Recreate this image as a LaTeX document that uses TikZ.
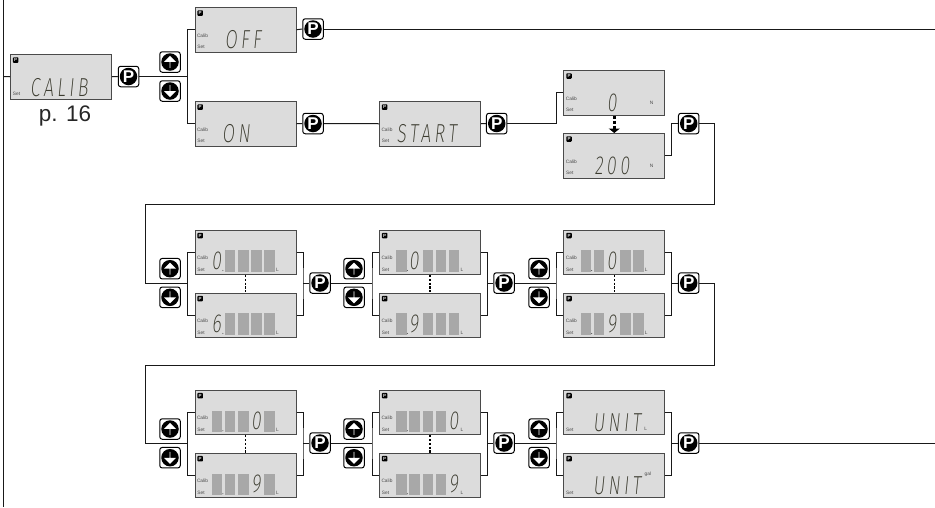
\documentclass[tikz,border=0pt]{standalone}
\usepackage{fontspec}
\setmainfont{Liberation Sans}
\newfontfamily\segfont[UprightFont=* ExtraLight,FakeSlant=0.1,FakeStretch=0.68,LetterSpace=14]{Fira Sans}
\usetikzlibrary{shapes,arrows.meta,positioning,calc}

\definecolor{lcdgrey}{HTML}{DCDCDC}
\definecolor{cellgrey}{HTML}{A8A8A8}
\definecolor{rimgrey}{HTML}{4A4A4A}
\definecolor{seggrey}{HTML}{3C3C30}

\tikzset{
  lcd/.style={
    draw=rimgrey, fill=lcdgrey, rectangle, line width=1pt,
    minimum width=101pt, minimum height=44.5pt, anchor=north west, inner sep=0pt
  },
  picon/.style={
    fill=black, rectangle, rounded corners=0.8pt, minimum size=5.5pt, inner sep=0pt,
    text=lcdgrey, font=\fontsize{4.5}{5}\selectfont\bfseries
  },
  tag/.style={inner sep=0pt, text=rimgrey, font=\fontsize{4.8}{5}\selectfont},
  segs/.style={inner sep=0pt, text=seggrey, font=\fontsize{26}{26}\segfont},
  cell/.style={fill=cellgrey, draw=none, rectangle, minimum width=10.3pt, minimum height=21.3pt,
    inner sep=0pt, anchor=north west},
  dotmark/.style={fill=rimgrey, circle, minimum size=1.1pt, inner sep=0pt},
  keybox/.style={
    draw=black, fill=white, rectangle, rounded corners=2.5pt, line width=1pt,
    minimum size=20.5pt, inner sep=0pt
  },
  keydisc/.style={
    fill=black, circle, minimum size=17.5pt, inner sep=0pt,
    text=white, font=\fontsize{17}{17}\selectfont\bfseries
  },
  keyarrow/.style={
    fill=white, single arrow, single arrow head extend=3pt, inner sep=0pt,
    minimum width=12pt, minimum height=12pt, shape border rotate=#1
  },
  link/.style={draw=black!90, line width=1pt},
  dots/.style={draw=black, line width=1.2pt, dash pattern=on 2.2pt off 1.6pt}
}

% display frame with the P mark
\newcommand{\lcdpanel}[2]{
  \node[lcd] (#1) at (#2) {};
  \node[picon] (#1mark) at ($(#1.north west)+(5.7,6)$) {P};
}
\newcommand{\lcdset}[1]{
  \node[tag] (#1set) at ($(#1.north west)+(6.5,40)$) {Set};
}
\newcommand{\lcdcalib}[1]{
  \node[tag] (#1calib) at ($(#1.north west)+(8,28.5)$) {Calib};
  \lcdset{#1}
}
% row of grey cells; #2 = cell holding the digit, #3 = digit
\newcommand{\lcdcells}[3]{
  \foreach \c/\off in {1/17,2/30,3/43.5,4/56.7,5/69.7} {
    \ifnum\c=#2\relax
      \node[segs] at ($(#1.north west)+(\off+5,31.5)$) {#3};
    \else
      \node[cell] at ($(#1.north west)+(\off,20.7)$) {};
    \fi
  }
  \node[dotmark] at ($(#1.north west)+(28.4,41)$) {};
  \node[tag] (#1unit) at ($(#1.north west)+(83,40)$) {L};
}
\newcommand{\keyP}[2]{
  \node[keybox] (#1) at (#2) {};
  \node[keydisc] (#1disc) at (#1) {P};
}
\newcommand{\keyUD}[3]{
  \node[keybox] (#1) at (#2) {};
  \node[keydisc] (#1disc) at (#1) {};
  \node[keyarrow=#3] (#1tip) at (#1) {};
}

\begin{document}
\begin{tikzpicture}[x=1pt,y=-1pt]
\useasboundingbox (0,0) rectangle (935,507);

% top row
\lcdpanel{calib}{10,54}
\lcdset{calib}
\node[segs] (calibtxt) at (59,88) {CALIB};
\node[font=\fontsize{22.5}{24}\selectfont, text=black!85, inner sep=0pt] (page) at (65,115.5) {p. 16};
\keyP{pcalib}{128.5,76.5}
\keyUD{ukey}{170,62}{90}
\keyUD{dkey}{170,91}{270}

\lcdpanel{off}{194.5,7}
\lcdcalib{off}
\node[segs] (offtxt) at (243,40) {OFF};
\keyP{poff}{313,29}

\lcdpanel{on}{194.5,101}
\lcdcalib{on}
\node[segs] (ontxt) at (236,134) {ON};
\keyP{pon}{313,123.5}

\lcdpanel{start}{379,101}
\lcdcalib{start}
\node[segs] (starttxt) at (426.5,134) {START};
\keyP{pstart}{496.7,123.5}

\lcdpanel{zero}{563.3,70}
\lcdcalib{zero}
\node[segs] (zerotxt) at (612,102.5) {0};
\node[tag] (zerounit) at (651.7,103) {N};

\lcdpanel{full}{563.3,133}
\lcdcalib{full}
\node[segs] (fulltxt) at (612,166) {200};
\node[tag] (fullunit) at (651.7,166) {N};
\keyP{pfull}{688.7,123.5}

% middle row
\foreach \nm/\x/\dg/\hi in {ra/194.5/1/6,rb/379/2/9,rc/563.3/3/9} {
  \lcdpanel{\nm u}{\x,229.5}
  \lcdcalib{\nm u}
  \lcdcells{\nm u}{\dg}{0}
  \lcdpanel{\nm d}{\x,292.5}
  \lcdcalib{\nm d}
  \lcdcells{\nm d}{\dg}{\hi}
  \draw[dots] (\nm u.south) -- (\nm d.north);
}
\foreach \nm/\x/\k in {ra/170/320,rb/354/504,rc/539/688.7} {
  \keyUD{\nm up}{\x,268.7}{90}
  \keyUD{\nm dn}{\x,297.3}{270}
  \keyP{\nm p}{\k,283}
}

% bottom row
\foreach \nm/\x/\dg in {sa/194.5/4,sb/379/5} {
  \lcdpanel{\nm u}{\x,389.7}
  \lcdcalib{\nm u}
  \lcdcells{\nm u}{\dg}{0}
  \lcdpanel{\nm d}{\x,452.7}
  \lcdcalib{\nm d}
  \lcdcells{\nm d}{\dg}{9}
  \draw[dots] (\nm u.south) -- (\nm d.north);
}
\lcdpanel{scu}{563.3,389.7}
\lcdset{scu}
\node[segs] (unitl) at (617,423) {UNIT};
\node[tag] (unitlt) at (645.7,429) {L};
\lcdpanel{scd}{563.3,452.7}
\lcdset{scd}
\node[segs] (unitg) at (617,486) {UNIT};
\node[tag, anchor=west] (unitgt) at (644.5,474.5) {gal};
\foreach \nm/\x/\k in {sa/170/320,sb/354/504,sc/539/688.7} {
  \keyUD{\nm up}{\x,429}{90}
  \keyUD{\nm dn}{\x,457.7}{270}
  \keyP{\nm p}{\k,443}
}

% free ends and junctions
\coordinate (railtop) at (3.5,0);
\coordinate (railbot) at (3.5,507);
\coordinate (railin) at (3.5,76.5);
\coordinate (endoff) at (935,29);
\coordinate (endunit) at (935,443);
\coordinate (jtop) at (187.5,76.5);
\coordinate (jzero) at (556,123.5);
\coordinate (jfull) at (671.3,123.5);
\coordinate (wa) at (714.3,204);
\coordinate (wb) at (145,204);
\coordinate (wc) at (714.3,365);
\coordinate (wd) at (145,365);

% connectors
\draw[link] (railtop) -- (railbot);
\draw[link] (railin) -- (calib.west);
\draw[link] (calib.east) -- (pcalib.west);
\draw[link] (pcalib.east) -- (jtop);
\draw[link] (off.west) -| (jtop) |- (on.west);
\draw[link] (off.east) -- (poff.west);
\draw[link] (poff.east) -- (endoff);
\draw[link] (on.east) -- (pon.west);
\draw[link] (pon.east) -- (start.west);
\draw[link] (start.east) -- (pstart.west);
\draw[link] (pstart.east) -- (jzero) |- (zero.west);
\draw[link] (full.east) -| (jfull) -- (pfull.west);
\draw[line width=3pt, dash pattern=on 3.2pt off 2pt, -{Triangle[width=11pt,length=4.5pt]}] (zero.south) -- (full.north);

\foreach \nm/\jl/\jr/\yy in {ra/187.5/303/283,rb/372/487.3/283,rc/556/671.3/283,sa/187.5/303/443,sb/372/487.3/443,sc/556/671.3/443} {
  \coordinate (\nm in) at (\jl,\yy);
  \coordinate (\nm out) at (\jr,\yy);
  \draw[link] (\nm u.west) -| (\nm in) |- (\nm d.west);
  \draw[link] (\nm u.east) -| (\nm out) |- (\nm d.east);
  \draw[link] (\nm out) -- (\nm p.west);
}
\draw[link] (pfull.east) -| (wa) -- (wb) |- (rain);
\draw[link] (rap.east) -- (rbin);
\draw[link] (rbp.east) -- (rcin);
\draw[link] (rcp.east) -| (wc) -- (wd) |- (sain);
\draw[link] (sap.east) -- (sbin);
\draw[link] (sbp.east) -- (scin);
\draw[link] (scp.east) -- (endunit);
\end{tikzpicture}
\end{document}
